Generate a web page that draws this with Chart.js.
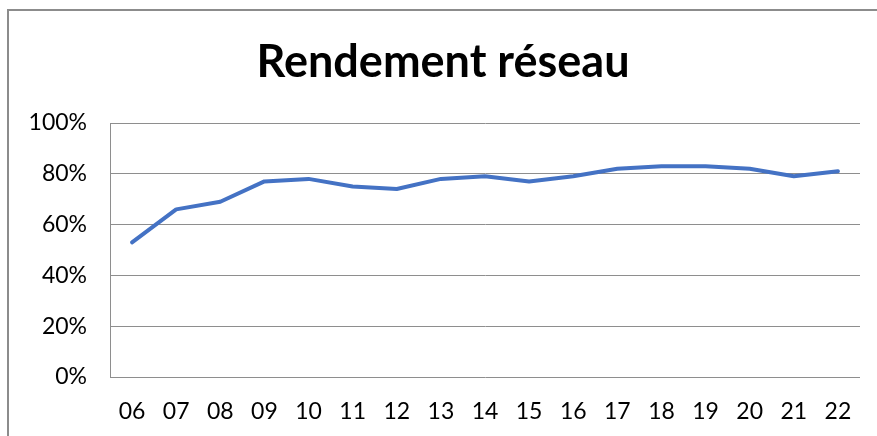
<!DOCTYPE html>
<html>
<head>
<meta charset="utf-8">
<script src="https://cdn.jsdelivr.net/npm/chart.js@4/dist/chart.umd.min.js"></script>
<style>
  html, body { margin: 0; padding: 0; background: #fff; }
  #wrap { position: relative; width: 877px; height: 436px; overflow: hidden; }
  #frame { position: absolute; left: 7px; top: 9px; width: 900px; height: 500px;
           border-left: 2px solid #8c8c8c; border-top: 2px solid #8c8c8c; pointer-events: none; }
  canvas { position: absolute; left: 0; top: 0; }
</style>
</head>
<body>
<div id="wrap">
  <canvas id="c" width="877" height="436"></canvas>
  <div id="frame"></div>
</div>
<script>
const titleText = "Rendement réseau";
const years = ["06","07","08","09","10","11","12","13","14","15","16","17","18","19","20","21","22"];
const rendement = [53, 66, 69, 77, 78, 75, 74, 78, 79, 77, 79, 82, 83, 83, 82, 79, 81];
const yTicks = [0, 20, 40, 60, 80, 100];

const FONT = "Lato, 'Open Sans', sans-serif";
const grey = "#8e8e8e";

new Chart(document.getElementById("c"), {
  type: "line",
  data: {
    labels: years,
    datasets: [{
      label: titleText,
      data: rendement,
      borderColor: "#4472C4",
      backgroundColor: "#4472C4",
      borderWidth: 4,
      pointRadius: 0,
      tension: 0,
      borderCapStyle: "round",
      borderJoinStyle: "round"
    }]
  },
  options: {
    responsive: false,
    animation: false,
    layout: { padding: { left: 26, right: 17, top: 0, bottom: 0 } },
    plugins: {
      legend: { display: false },
      tooltip: { enabled: false },
      title: {
        display: true,
        text: titleText,
        color: "#000",
        font: { family: FONT, size: 45, weight: "bold", lineHeight: 1.2 },
        padding: { top: 35, bottom: 34 }
      }
    },
    scales: {
      x: {
        offset: true,
        grid: { display: false, drawTicks: false },
        border: { display: false },
        ticks: { color: "#000", font: { family: FONT, size: 23 }, padding: 21, maxRotation: 0, autoSkip: false },
        afterFit: (a) => { a.height = 59; }
      },
      y: {
        min: 0, max: 100,
        afterBuildTicks: (a) => { a.ticks = yTicks.map(v => ({ value: v })); },
        grid: { color: grey, lineWidth: 1, drawTicks: false },
        border: { display: true, color: grey, width: 1 },
        ticks: { color: "#000", font: { family: FONT, size: 23 }, padding: 23, callback: (v) => v + "%" },
        afterFit: (a) => { a.width = 84; }
      }
    }
  }
});
</script>
</body>
</html>
